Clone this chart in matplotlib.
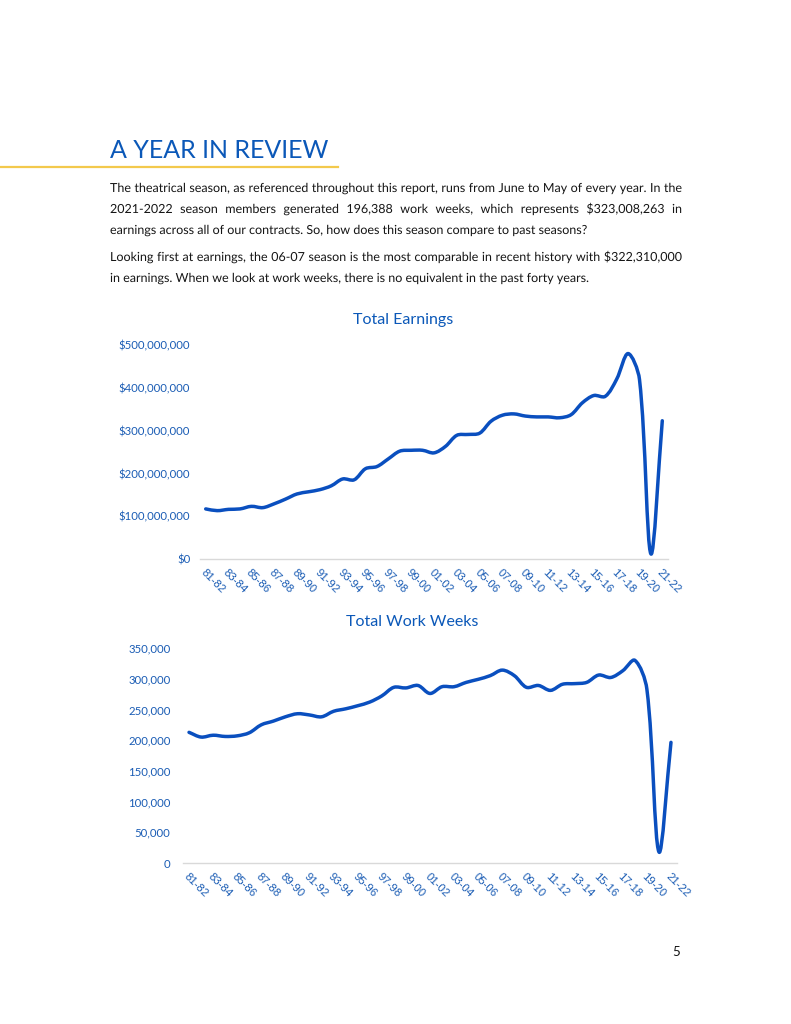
import matplotlib
matplotlib.use('Agg')
import matplotlib.pyplot as plt
from matplotlib.path import Path
from matplotlib.patches import PathPatch
from matplotlib.ticker import FuncFormatter
from matplotlib.textpath import TextPath, text_to_path
from matplotlib.font_manager import FontProperties
from matplotlib.transforms import Affine2D
import numpy as np

plt.rcParams['font.family'] = ['Lato', 'DejaVu Sans']

W, H = 791, 1024
BLUE = "#0b58b8"
LINE = "#0a4fbf"
TICK = "#1a5cb4"

# ------------------------------------------------------------------
# data
# ------------------------------------------------------------------
seasons = ["81-82", "82-83", "83-84", "84-85", "85-86", "86-87", "87-88", "88-89",
           "89-90", "90-91", "91-92", "92-93", "93-94", "94-95", "95-96", "96-97",
           "97-98", "98-99", "99-00", "00-01", "01-02", "02-03", "03-04", "04-05",
           "05-06", "06-07", "07-08", "08-09", "09-10", "10-11", "11-12", "12-13",
           "13-14", "14-15", "15-16", "16-17", "17-18", "18-19", "19-20", "20-21",
           "21-22"]

# earnings, millions of dollars
earnings = [117, 113, 116, 117, 123, 120, 129, 140, 152, 157,
            162, 171, 187, 185, 211, 216, 234, 252, 254, 254,
            248, 263, 289, 291, 294, 322, 336, 339, 334, 332,
            332, 330, 337, 365, 382, 380, 420, 480, 420, 12,
            323.008263]

# work weeks, thousands
work_weeks = [212.7, 205, 208, 206, 207, 212, 225, 231, 238, 243,
              241, 238, 247, 251, 256, 262, 272, 286, 285, 289,
              276, 287, 287, 294, 299, 305, 314, 305, 286, 289,
              281, 291, 292, 294, 306, 302, 313, 330, 283, 18,
              196.388]

para1 = ["The theatrical season, as referenced throughout this report, runs from June to May of every year. In the",
         "2021-2022 season members generated 196,388 work weeks, which represents $323,008,263 in",
         "earnings across all of our contracts. So, how does this season compare to past seasons?"]
para2 = ["Looking first at earnings, the 06-07 season is the most comparable in recent history with $322,310,000",
         "in earnings. When we look at work weeks, there is no equivalent in the past forty years."]


def fx(x):
    return x / W


def fy(y):
    return 1 - y / H


def smooth_path(xs, ys, sx, sy):
    # smoothed line through the points, tangents weighted by screen-space segment length
    P = np.column_stack([xs, ys]).astype(float)
    S = P * [sx, sy]
    n = len(P)
    before = [None] * n
    after = [None] * n
    for i in range(n):
        a = max(i - 1, 0)
        b = min(i + 1, n - 1)
        d1 = np.hypot(*(S[i] - S[a]))
        d2 = np.hypot(*(S[b] - S[i]))
        T = P[b] - P[a]
        tot = d1 + d2 if d1 + d2 > 0 else 1
        before[i] = P[i] - T * d1 / tot / 3
        after[i] = P[i] + T * d2 / tot / 3
    verts = [tuple(P[0])]
    codes = [Path.MOVETO]
    for i in range(n - 1):
        verts += [tuple(after[i]), tuple(before[i + 1]), tuple(P[i + 1])]
        codes += [Path.CURVE4] * 3
    return Path(verts, codes)


fig = plt.figure(figsize=(W / 100, H / 100), dpi=100)

# ------------------------------------------------------------------
# header
# ------------------------------------------------------------------
fig.text(fx(110), fy(158), "A YEAR IN REVIEW", fontsize=18.0, color=BLUE,
         va="baseline", ha="left")
fig.add_artist(plt.Line2D([0, fx(338)], [fy(167), fy(167)], color="#f3c94c", lw=1.6))

PSIZE = 12.5  # paragraph font size in pixels
pprop = FontProperties(family="Lato", size=PSIZE)


def word_width(s):
    w, h, d = text_to_path.get_text_width_height_descent(s, pprop, ismath=False)
    return w


SPACE = word_width("a a") - word_width("aa")


def write_line(text, y, justify, x0=110, x1=682):
    words = text.split(" ")
    widths = [word_width(w) for w in words]
    if justify and len(words) > 1:
        gap = (x1 - x0 - sum(widths)) / (len(words) - 1)
    else:
        gap = SPACE
    x = x0
    for w, wd in zip(words, widths):
        tp = TextPath((0, 0), w, size=PSIZE, prop=pprop)
        patch = PathPatch(tp, facecolor="#161616", edgecolor="none", lw=0,
                          transform=Affine2D().translate(x, H - y))
        fig.add_artist(patch)
        x += wd + gap


for i, line in enumerate(para1):
    write_line(line, 192 + 21 * i, i < len(para1) - 1)
for i, line in enumerate(para2):
    write_line(line, 261 + 21 * i, i < len(para2) - 1)

fig.text(fx(676), fy(952), "5", fontsize=9.5, color="#111111", ha="center", va="center")


# ------------------------------------------------------------------
# charts
# ------------------------------------------------------------------
def chart(left, right, top, bottom, values, ymax, ystep, fmt, title, title_x, title_y, ypad):
    ax = fig.add_axes([fx(left), fy(bottom), fx(right) - fx(left), (bottom - top) / H])
    xs = list(range(len(values)))
    sx = (right - left) / len(values)
    sy = (bottom - top) / ymax
    ax.add_patch(PathPatch(smooth_path(xs, values, sx, sy), fill=False, edgecolor=LINE,
                           lw=2.5, capstyle="round", joinstyle="round", clip_on=False))
    ax.set_xlim(-0.5, len(values) - 0.5)
    ax.set_ylim(0, ymax)
    ax.set_yticks([ystep * k for k in range(int(round(ymax / ystep)) + 1)])
    ax.yaxis.set_major_formatter(FuncFormatter(fmt))
    ax.set_xticks(xs[::2])
    ax.set_xticklabels(seasons[::2], rotation=-45, ha="left", va="top",
                       rotation_mode="anchor", fontsize=8.2, color=TICK,
                       family=["Liberation Sans", "DejaVu Sans"])
    ax.tick_params(axis="both", length=0)
    ax.tick_params(axis="x", pad=6)
    ax.tick_params(axis="y", pad=ypad, labelsize=8.2, labelcolor=TICK)
    for s in ["top", "right", "left"]:
        ax.spines[s].set_visible(False)
    ax.spines["bottom"].set_color("#d9d9d9")
    ax.spines["bottom"].set_linewidth(1.0)
    ax.patch.set_alpha(0)
    fig.text(fx(title_x), fy(title_y), title, fontsize=11.5,
             color=BLUE, ha="center", va="center")
    return ax


chart(200, 668, 345, 559, earnings, 500, 100,
      lambda v, p: "$0" if v == 0 else f"${v * 1e6:,.0f}",
      "Total Earnings", 403, 320, 7)

chart(183, 677, 648, 863, work_weeks, 350, 50,
      lambda v, p: f"{v * 1000:,.0f}",
      "Total Work Weeks", 412, 622, 9)

fig.savefig("out.png", dpi=100)
